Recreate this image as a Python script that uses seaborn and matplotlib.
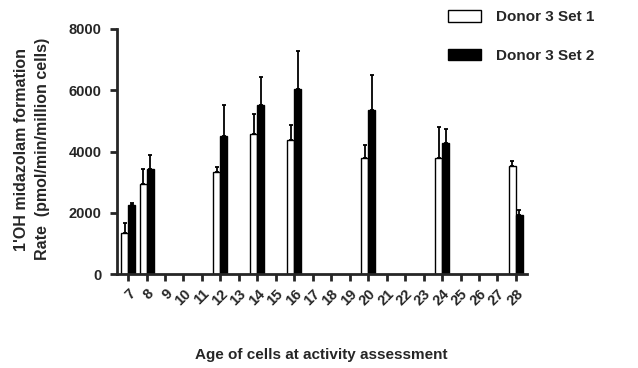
import matplotlib
matplotlib.use("Agg")
import matplotlib.pyplot as plt
import seaborn as sns
import pandas as pd
import numpy as np

# ---- data ----
days = list(range(7, 29))
measured_days = [7, 8, 12, 14, 16, 20, 24, 28]
set1_mean = [1340, 2930, 3330, 4580, 4390, 3800, 3790, 3530]
set1_err = [330, 490, 165, 640, 460, 420, 1020, 165]
set2_mean = [2260, 3420, 4500, 5510, 6030, 5370, 4280, 1940]
set2_err = [65, 460, 1010, 920, 1260, 1140, 440, 165]
series = ["Donor 3 Set 1", "Donor 3 Set 2"]

rows = []
for d, m1, m2 in zip(measured_days, set1_mean, set2_mean):
    rows.append({"Day": str(d), "Set": series[0], "Rate": m1})
    rows.append({"Day": str(d), "Set": series[1], "Rate": m2})
df = pd.DataFrame(rows)
err_lookup = {}
for d, e1, e2 in zip(measured_days, set1_err, set2_err):
    err_lookup[(str(d), series[0])] = e1
    err_lookup[(str(d), series[1])] = e2

sns.set_style("ticks")
plt.rcParams["font.family"] = ["Liberation Sans", "DejaVu Sans"]
plt.rcParams["font.weight"] = "bold"

fig = plt.figure(figsize=(6.38, 3.68), dpi=100)
ax = fig.add_axes([0.1834, 0.2554, 0.8260 - 0.1834, 0.9212 - 0.2554])

order = [str(d) for d in days]
sns.barplot(data=df, x="Day", y="Rate", hue="Set", order=order, hue_order=series,
            palette={series[0]: "white", series[1]: "black"}, edgecolor="black",
            linewidth=1.0, width=0.76, errorbar=None, ax=ax)

# error bars (upward only)
bar_containers = list(ax.containers)[:2]
for ci, cont in enumerate(bar_containers):
    s = series[ci]
    for p in cont.patches:
        xc = p.get_x() + p.get_width() / 2
        idx = int(round(xc))
        key = (order[idx], s)
        if key in err_lookup and not np.isnan(p.get_height()):
            ax.errorbar([xc], [p.get_height()], yerr=[[0], [err_lookup[key]]], fmt="none",
                        ecolor="black", elinewidth=1.3, capsize=1.5, capthick=1.3, zorder=1)

ax.set_ylim(0, 8000)
ax.set_xlim(-0.6, 21.6)
ax.set_yticks([0, 2000, 4000, 6000, 8000])
for sp in ["top", "right"]:
    ax.spines[sp].set_visible(False)
for sp in ["left", "bottom"]:
    ax.spines[sp].set_linewidth(2)
ax.tick_params(axis="both", width=2, length=5, direction="out", labelsize=10.5)
ax.tick_params(axis="x", pad=4)
ax.tick_params(axis="y", pad=6)
plt.setp(ax.get_xticklabels(), rotation=45, ha="right", rotation_mode="anchor", fontweight="bold")
plt.setp(ax.get_yticklabels(), fontweight="bold")

ax.set_xlabel("")
ax.set_ylabel("1'OH midazolam formation\nRate  (pmol/min/million cells)", fontsize=11.5,
              fontweight="bold", linespacing=1.5)
ax.yaxis.label.set_va("center")
ax.yaxis.set_label_coords(-0.207, 0.51)
fig.text(0.503, 0.035, "Age of cells at activity assessment", ha="center", va="center",
         fontsize=11, fontweight="bold")

ax.get_legend().remove()
h, l = ax.get_legend_handles_labels()
fig.legend(h, l, loc="upper left", bbox_to_anchor=(0.68, 1.01), frameon=False,
           handlelength=2.2, handleheight=0.8, labelspacing=1.6,
           handletextpad=1.0, prop={"weight": "bold", "size": 11})

fig.savefig("out.png", dpi=100)
